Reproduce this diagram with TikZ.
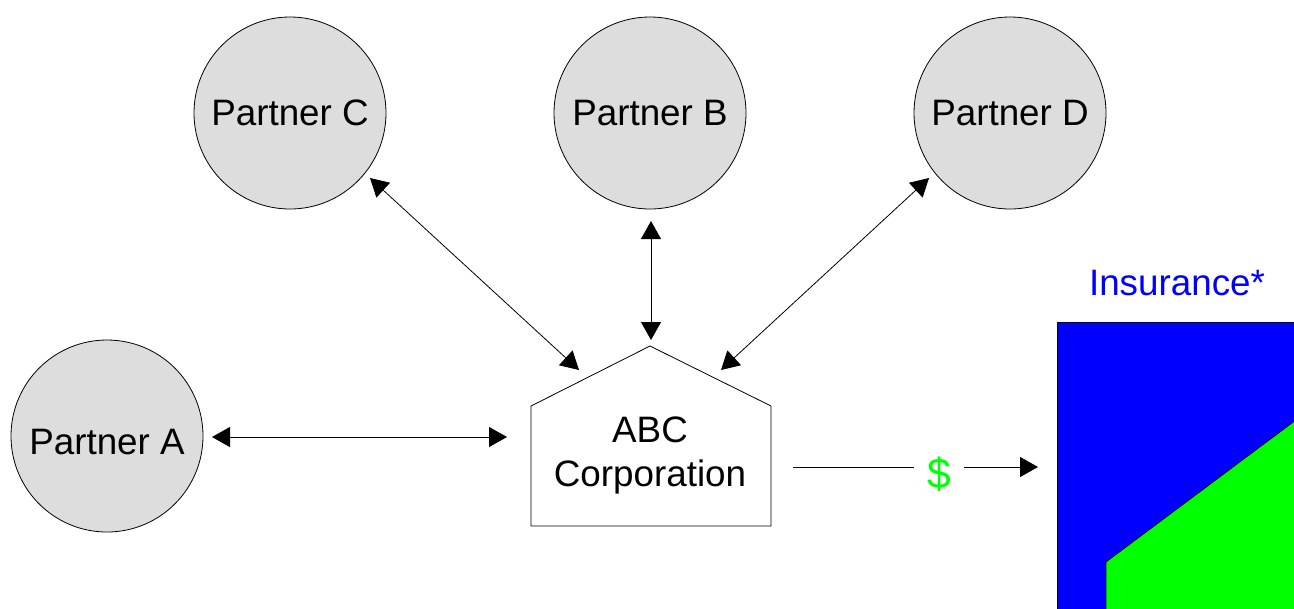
\documentclass[tikz,border=0pt]{standalone}
\usepackage{fontspec}
\setmainfont{Liberation Sans}
\usetikzlibrary{arrows.meta}
\definecolor{circfill}{HTML}{DDDDDD}
\definecolor{insblue}{HTML}{0000FF}
\definecolor{insgreen}{HTML}{00FF00}
\begin{document}
\begin{tikzpicture}[x=0.75pt,y=-0.75pt,
  bigfont/.style={font=\fontsize{27.6}{33}\selectfont},
  partner/.style={circle,draw,fill=circfill,minimum size=144pt,inner sep=0pt,line width=0.6pt,bigfont},
  tip/.tip={Triangle[length=13.5pt,width=15pt]},
  twoway/.style={{tip}-{tip},line width=0.6pt},
  oneway/.style={-{tip},line width=0.6pt},
  plain/.style={line width=0.6pt}]
\useasboundingbox (0,0) rectangle (1294,608);
% partners
\node[partner] (C) at (290,113) {Partner C};
\node[partner] (B) at (650,113) {Partner B};
\node[partner] (D) at (1010,113) {Partner D};
\node[partner] (A) at (107,436) {};
\node[bigfont,inner sep=0pt] (Atext) at (107,442) {Partner A};
% ABC corporation
\draw[plain,fill=white] (531,526) -- (531,406) -- (650,346) -- (771,406) -- (771,526) -- cycle;
\node[bigfont,align=center,inner sep=0pt] (abc) at (650,455) {ABC\\Corporation};
% endpoints
\coordinate (a1) at (212,437);
\coordinate (a2) at (507,437);
\coordinate (c1) at (370,178);
\coordinate (c2) at (579,370);
\coordinate (b1) at (651,221);
\coordinate (b2) at (651,340);
\coordinate (d1) at (929,178);
\coordinate (d2) at (721,370);
\draw[twoway] (a1) -- (a2);
\draw[twoway] (c1) -- (c2);
\draw[twoway] (b1) -- (b2);
\draw[twoway] (d1) -- (d2);
% insurance
\node[draw=black,fill=insblue,line width=0.6pt,anchor=north west,minimum width=183pt,minimum height=222pt,inner sep=0pt] (insbox) at (1057,322) {};
\filldraw[fill=insgreen,draw=black,line width=0.5pt] (1106,615) -- (1106,562) -- (1300,417) -- (1300,615) -- cycle;
\node[bigfont,text=insblue] (ins) at (1177,283) {Insurance*};
% money flow
\node[font=\fontsize{32}{36}\selectfont,text=insgreen,inner sep=10pt] (dol) at (939,474) {\$};
\coordinate (m1) at (793,467);
\coordinate (m2) at (1038,467);
\draw[plain] (m1) -- (m1 -| dol.west);
\draw[oneway] (m2 -| dol.east) -- (m2);
\end{tikzpicture}
\end{document}
